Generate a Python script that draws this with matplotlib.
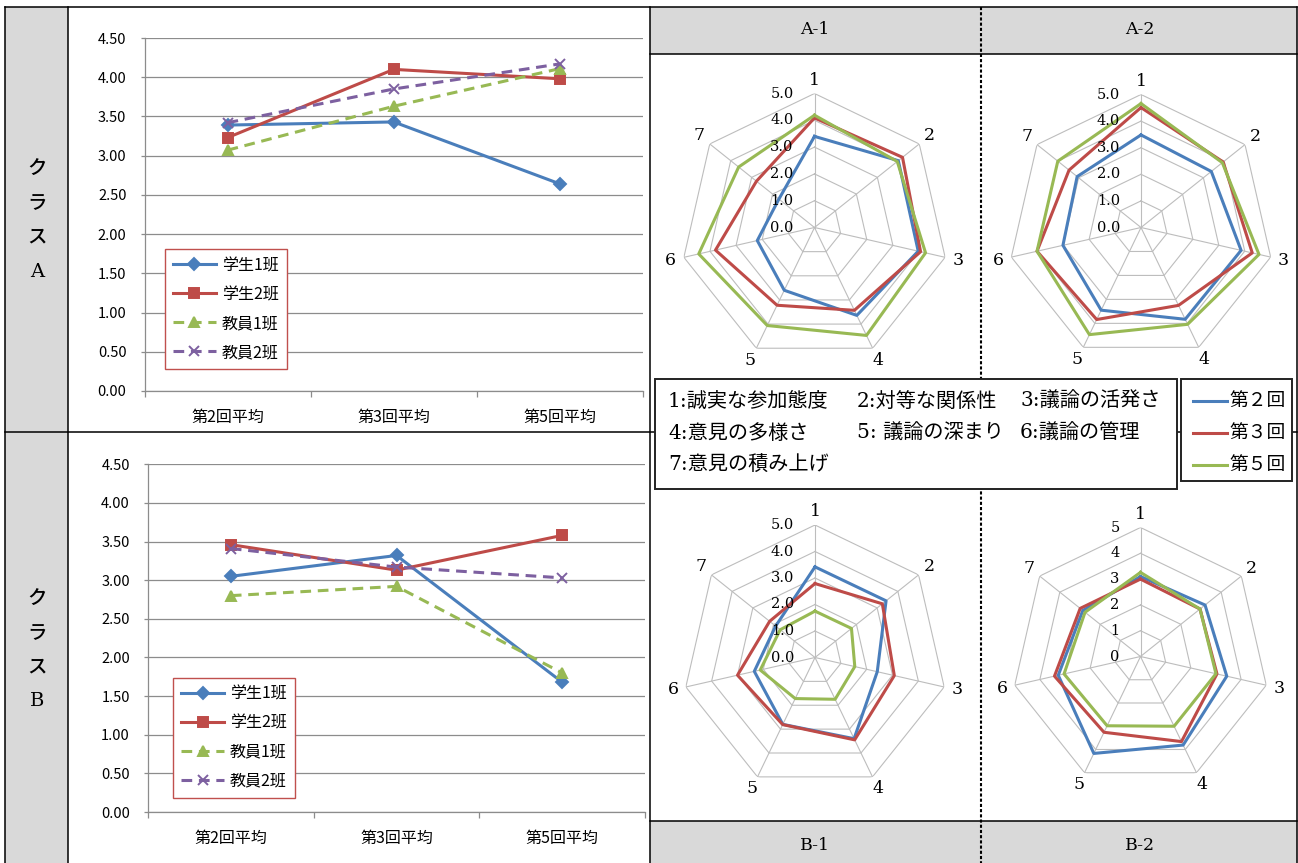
import numpy as np
import matplotlib.pyplot as plt
import matplotlib.transforms as mtransforms
from matplotlib.patches import Rectangle

plt.rcParams['font.family'] = ['Noto Sans CJK JP', 'DejaVu Sans']
SERIF_JP = ['DejaVu Serif', 'Noto Sans CJK JP']

W, H = 1298, 863

# line charts: class averages per session
sessions = ['第2回平均', '第3回平均', '第5回平均']
groups = ['学生1班', '学生2班', '教員1班', '教員2班']

a_student1 = [3.39, 3.43, 2.64]
a_student2 = [3.23, 4.10, 3.98]
a_teacher1 = [3.07, 3.63, 4.11]
a_teacher2 = [3.42, 3.85, 4.17]

b_student1 = [3.05, 3.32, 1.68]
b_student2 = [3.46, 3.13, 3.58]
b_teacher1 = [2.80, 2.92, 1.80]
b_teacher2 = [3.41, 3.17, 3.03]

# radar charts: 7 criteria, rounds 2 / 3 / 5
spokes = ['1', '2', '3', '4', '5', '6', '7']
criteria = ['1:誠実な参加態度', '2:対等な関係性', '3:議論の活発さ',
            '4:意見の多様さ', '5: 議論の深まり', '6:議論の管理',
            '7:意見の積み上げ']
rounds = ['第２回', '第３回', '第５回']

a1_r2 = [3.40, 4.00, 3.97, 3.64, 2.60, 2.19, 1.70]
a1_r3 = [4.09, 4.20, 4.06, 3.43, 3.22, 3.79, 2.77]
a1_r5 = [4.19, 3.95, 4.25, 4.47, 4.06, 4.43, 3.62]

a2_r2 = [3.48, 3.38, 3.86, 3.83, 3.45, 3.01, 3.07]
a2_r3 = [4.51, 3.95, 4.29, 3.25, 3.84, 4.01, 3.46]
a2_r5 = [4.66, 3.91, 4.55, 4.04, 4.47, 4.01, 4.00]

b1_r2 = [3.42, 3.43, 2.41, 3.40, 2.80, 2.35, 1.90]
b1_r3 = [2.79, 3.25, 3.07, 3.45, 2.81, 3.00, 2.19]
b1_r5 = [1.75, 1.76, 1.54, 1.75, 1.72, 2.12, 1.68]

b2_r2 = [3.10, 3.20, 3.43, 3.81, 4.17, 3.27, 2.86]
b2_r3 = [3.00, 2.95, 3.04, 3.66, 3.26, 3.42, 2.99]
b2_r5 = [3.26, 2.95, 3.00, 3.00, 2.98, 3.04, 2.75]

BLUE, RED, GREEN, PURPLE = '#4a7ebb', '#be4b48', '#98b954', '#7d60a0'
GRID = '#8c8c8c'

fig = plt.figure(figsize=(W / 100, H / 100), dpi=100)


def px_axes(x0, y0, x1, y1, **kw):
    return fig.add_axes([x0 / W, 1 - y1 / H, (x1 - x0) / W, (y1 - y0) / H], **kw)


# table background, borders and captions
bg = fig.add_axes([0, 0, 1, 1])
bg.set_xlim(0, W)
bg.set_ylim(H, 0)
bg.set_axis_off()

for x, y, w, h in [(5, 7, 63, 856), (650, 7, 647, 47), (650, 821, 647, 42)]:
    bg.add_patch(Rectangle((x, y), w, h, fc='#d9d9d9', ec='none', zorder=0))

lw = 1.1
bg.plot([5, 1297], [7, 7], color='k', lw=lw)
bg.plot([5, 1297], [432, 432], color='k', lw=lw)
bg.plot([650, 1297], [54, 54], color='k', lw=lw)
bg.plot([650, 1297], [821, 821], color='k', lw=lw)
for x in [5, 68, 650, 1297]:
    bg.plot([x, x], [7, H], color='k', lw=lw)
bg.plot([980.5, 980.5], [7, H], color='k', lw=1.5, ls=(0, (1.5, 1)))

for txt, x, y in [('A-1', 815, 30), ('A-2', 1140, 30), ('B-1', 815, 845), ('B-2', 1140, 845)]:
    bg.text(x, y, txt, ha='center', va='center', fontsize=12.5, family='DejaVu Serif')

for chars, ys in [('クラスA', [170, 204, 237, 272]), ('クラスB', [600, 634, 667, 701])]:
    for ch, y in zip(chars, ys):
        bg.text(37, y, ch, ha='center', va='center', fontsize=14, family=SERIF_JP,
                fontweight='medium')

# criteria key and round key
bg.add_patch(Rectangle((655, 379), 522, 110, fc='white', ec='#222222', lw=1.4, zorder=2))
bg.add_patch(Rectangle((1181, 379), 111, 102, fc='white', ec='#222222', lw=1.4, zorder=2))
col_x = [668, 857, 1020]
row_y = [401, 433, 465]
for i, txt in enumerate(criteria):
    bg.text(col_x[i % 3], row_y[i // 3], txt, ha='left', va='center', fontsize=14.5,
            family=SERIF_JP, zorder=3)
for txt, color, y in zip(rounds, [BLUE, RED, GREEN], row_y):
    bg.plot([1193, 1227], [y, y], color=color, lw=2.2, zorder=3)
    bg.text(1229, y, txt, ha='left', va='center', fontsize=13.5, family=SERIF_JP, zorder=3)


def line_panel(box, series, legend_at):
    ax = px_axes(*box)
    ax.patch.set_visible(False)
    x = np.arange(len(sessions))
    styles = [(BLUE, 'D', 6.5, '-'), (RED, 's', 7.5, '-'),
              (GREEN, '^', 7.5, (0, (3.5, 2.2))), (PURPLE, 'x', 7.5, (0, (3.5, 2.2)))]
    for vals, name, (color, marker, ms, ls) in zip(series, groups, styles):
        ax.plot(x, vals, color=color, lw=2.2, ls=ls, marker=marker, ms=ms,
                mew=1.4, label=name, clip_on=False)
    ax.set_xlim(-0.5, 2.5)
    ax.set_ylim(0, 4.5)
    yt = np.arange(0, 4.51, 0.5)
    ax.set_yticks(yt, ['%.2f' % v for v in yt])
    ax.yaxis.grid(True, color=GRID, lw=0.9)
    ax.set_axisbelow(True)
    for s in ['top', 'right']:
        ax.spines[s].set_visible(False)
    for s in ['left', 'bottom']:
        ax.spines[s].set_color(GRID)
        ax.spines[s].set_linewidth(0.9)
    ax.set_xticks(x, sessions)
    ax.set_xticks([-0.5, 0.5, 1.5, 2.5], minor=True)
    ax.tick_params(axis='x', which='major', length=0, pad=13, labelsize=11.5)
    ax.tick_params(axis='x', which='minor', length=4, color=GRID, width=0.9)
    ax.tick_params(axis='y', length=3, color=GRID, width=0.9, pad=10, labelsize=10.5)
    leg = ax.legend(loc='upper left', bbox_to_anchor=legend_at, borderaxespad=0,
                    fancybox=False, framealpha=1, edgecolor='#c0504d', fontsize=11.5,
                    handlelength=2.7, handletextpad=0.35, labelspacing=0.75,
                    borderpad=0.5)
    leg.get_frame().set_linewidth(1.0)
    return ax


line_panel((144.5, 38, 643, 391), [a_student1, a_student2, a_teacher1, a_teacher2],
           (0.041, 0.402))
line_panel((148, 464.3, 645, 812), [b_student1, b_student2, b_teacher1, b_teacher2],
           (0.051, 0.386))


def radar_panel(cx, cy, R, series, ticklabels):
    ax = px_axes(cx - R, cy - R, cx + R, cy + R, projection='polar')
    ax.set_theta_zero_location('N')
    ax.set_theta_direction(-1)
    ax.set_ylim(0, 5)
    ax.grid(False)
    ax.spines['polar'].set_visible(False)
    ax.set_xticks([])
    ax.set_yticks([])
    ax.patch.set_visible(False)
    theta = np.linspace(0, 2 * np.pi, len(spokes) + 1)
    for r in range(1, 6):
        ax.plot(theta, [r] * len(theta), color='#bdbdbd', lw=0.8)
    for t in theta[:-1]:
        ax.plot([t, t], [0, 5], color='#bdbdbd', lw=0.8)
    for vals, color in zip(series, [BLUE, RED, GREEN]):
        ax.plot(theta, vals + vals[:1], color=color, lw=2.2, clip_on=False)
    for t, lab in zip(theta[:-1], spokes):
        ax.text(t, 5.5, lab, ha='center', va='center', fontsize=12.5,
                family='DejaVu Serif')
    shift = ax.transData + mtransforms.ScaledTranslation(-15 / 72, 0, fig.dpi_scale_trans)
    for r, lab in enumerate(ticklabels):
        ax.text(0, r, lab, transform=shift, ha='right', va='center', fontsize=10.5,
                family='DejaVu Serif')


dec = ['0.0', '1.0', '2.0', '3.0', '4.0', '5.0']
radar_panel(814.5, 227.5, 134, [a1_r2, a1_r3, a1_r5], dec)
radar_panel(1141, 227.5, 133, [a2_r2, a2_r3, a2_r5], dec)
radar_panel(815, 657.5, 132.5, [b1_r2, b1_r3, b1_r5], dec)
radar_panel(1140.5, 656.5, 129, [b2_r2, b2_r3, b2_r5], ['0', '1', '2', '3', '4', '5'])

fig.savefig('out.png', dpi=100)
